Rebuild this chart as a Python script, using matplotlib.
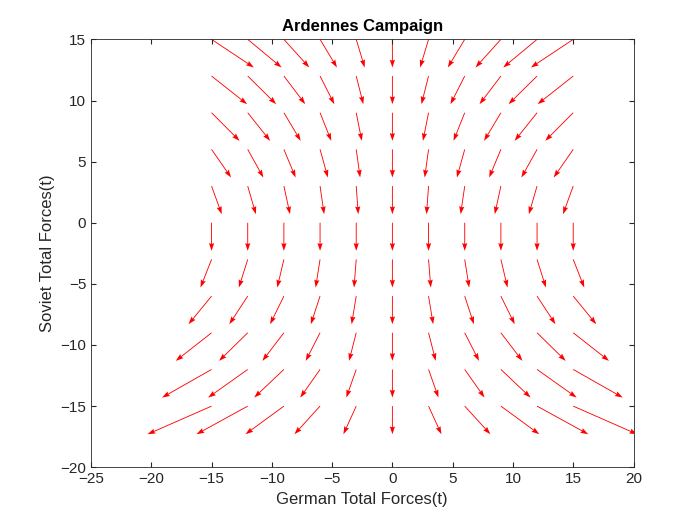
import numpy as np
import matplotlib
matplotlib.use("Agg")
import matplotlib.pyplot as plt
plt.rcParams['font.family'] = ['Liberation Sans', 'DejaVu Sans']

x_vals = np.arange(-15, 16, 3)
y_vals = np.arange(-15, 16, 3)
a_coef = 0.0196
b_coef = 0.000267
dy_const = -2.3

X, Y = np.meshgrid(x_vals, y_vals)
U = -X * (a_coef * Y - b_coef * Y**2)
V = np.full_like(U, dy_const, dtype=float)

fig = plt.figure(figsize=(7, 5.25), dpi=100)
ax = fig.add_axes([0.13, 0.11, 0.775, 0.815])
ax.quiver(X, Y, U, V, color='red', angles='xy', scale_units='xy', scale=1,
          width=0.0016, headwidth=6, headlength=9, headaxislength=8)
ax.set_xlim(-25, 20)
ax.set_ylim(-20, 15)
ax.set_xticks(np.arange(-25, 21, 5))
ax.set_yticks(np.arange(-20, 16, 5))
ax.tick_params(direction='in', top=True, right=True, labelsize=11, colors='#262626')
for s in ax.spines.values():
    s.set_linewidth(0.6)
    s.set_color('#262626')
ax.set_xlabel('German Total Forces(t)', fontsize=12, color='#262626')
ax.set_ylabel('Soviet Total Forces(t)', fontsize=12, color='#262626')
ax.set_title('Ardennes Campaign', fontsize=12, fontweight='bold')
fig.savefig('out.png', dpi=100)
